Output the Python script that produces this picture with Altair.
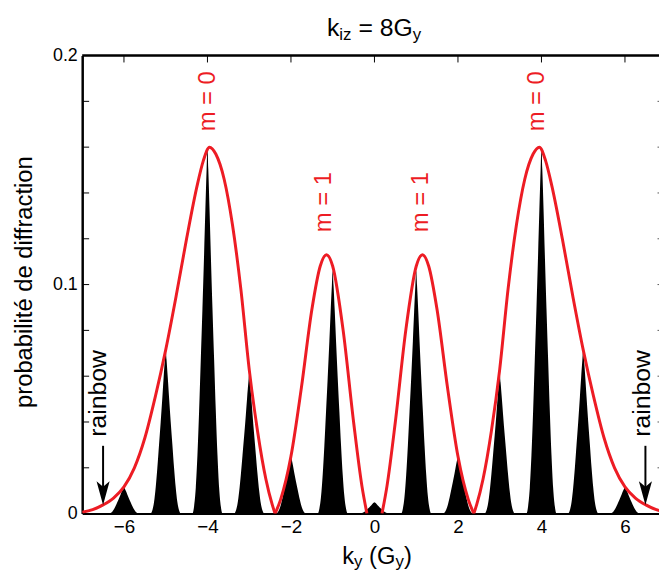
import altair as alt
import pandas as pd

RED = "#ED1C24"
FONT = "Liberation Sans"

# ---------------- data ----------------
# red envelope, one list pair per lobe (k_y in G_y, probability)
lobeA_x = [-7.0, -6.75, -6.5, -6.25, -6.0, -5.75, -5.5, -5.25, -5.0, -4.75, -4.5, -4.25, -4.1, -3.95, -3.8, -3.6, -3.4, -3.2, -3.0, -2.8, -2.6, -2.45, -2.38]
lobeA_y = [0.0006, 0.0017, 0.0038, 0.0068, 0.0117, 0.020, 0.033, 0.051, 0.0715, 0.095, 0.120, 0.143, 0.154, 0.160, 0.157, 0.146, 0.126, 0.098, 0.063, 0.036, 0.015, 0.004, 0.0]
lobeB_x = [-2.38, -2.25, -2.0, -1.75, -1.5, -1.3, -1.15, -1.0, -0.75, -0.5, -0.3, -0.18]
lobeB_y = [0.0, 0.006, 0.025, 0.055, 0.089, 0.108, 0.113, 0.108, 0.080, 0.040, 0.012, 0.0]
lobeC_x = [0.18, 0.3, 0.5, 0.75, 1.0, 1.15, 1.3, 1.5, 1.75, 2.0, 2.25, 2.38]
lobeC_y = [0.0, 0.012, 0.040, 0.080, 0.108, 0.113, 0.108, 0.089, 0.055, 0.025, 0.006, 0.0]
lobeD_x = [2.38, 2.45, 2.6, 2.8, 3.0, 3.2, 3.4, 3.6, 3.8, 3.95, 4.1, 4.25, 4.5, 4.75, 5.0, 5.25, 5.5, 5.75, 6.0, 6.25, 6.5, 6.75, 7.0]
lobeD_y = [0.0, 0.004, 0.015, 0.036, 0.063, 0.098, 0.126, 0.146, 0.157, 0.160, 0.154, 0.143, 0.120, 0.095, 0.0715, 0.051, 0.033, 0.020, 0.0117, 0.0068, 0.0038, 0.0017, 0.0006]

# black diffraction peaks: positions and heights
peak_x = [-6, -5, -4, -3, -2, -1, 0, 1, 2, 3, 4, 5, 6]
peak_h = [0.0117, 0.0715, 0.160, 0.061, 0.025, 0.106, 0.005, 0.106, 0.025, 0.061, 0.160, 0.0715, 0.0117]
# shape of one peak: offset from its centre and height relative to its top
prof_dx = [-0.36, -0.32, -0.28, -0.24, -0.2, -0.16, -0.12, -0.08, -0.05, -0.02, 0.0,
           0.02, 0.05, 0.08, 0.12, 0.16, 0.2, 0.24, 0.28, 0.32, 0.36]
prof_rel = [0.0, 0.02, 0.07, 0.16, 0.28, 0.42, 0.56, 0.71, 0.83, 0.94, 1.0,
            0.94, 0.83, 0.71, 0.56, 0.42, 0.28, 0.16, 0.07, 0.02, 0.0]

x_ticks = [-6, -4, -2, 0, 2, 4, 6]
y_labels = [0, 0.1, 0.2]
y_minor = [0.02, 0.04, 0.06, 0.08, 0.1, 0.12, 0.14, 0.16, 0.18]

m_labels = ["m = 0", "m = 1", "m = 1", "m = 0"]
m_x = [-3.99, -1.2, 1.11, 3.9]
m_y = [0.180, 0.136, 0.136, 0.180]

rainbow_x = [-6.63, 6.42]
rainbow_y = [0.0525, 0.0525]
arrow_x = [-6.5, 6.49]
arrow_top = 0.0296
arrow_end = 0.0065
arrow_head_y = 0.0089

# ---------------- layout ----------------
W, H = 583, 463
OX, OY = 83, 53          # page position of the plot origin
XMIN, XMAX = -7.0, -7.0 + W / 42.2

xs = alt.Scale(domain=[XMIN, XMAX], nice=False, zero=False)
ys = alt.Scale(domain=[0, 0.2], nice=False, zero=False)

xaxis = alt.Axis(values=x_ticks, ticks=False, domainColor="black", domainWidth=2,
                 labelFont=FONT, labelFontSize=19, labelColor="black", labelPadding=4,
                 labelFlush=False, labelOverlap=False, grid=False, title=None)
yaxis = alt.Axis(values=y_labels, ticks=False, domainColor="black", domainWidth=2.5,
                 labelFont=FONT, labelFontSize=18, labelColor="black", labelPadding=5,
                 format=".1~f",
                 labelFlush=False, labelOverlap=False, grid=False, title=None)


def X(f):
    return alt.X(f, type="quantitative", scale=xs, axis=xaxis)


def Y(f):
    return alt.Y(f, type="quantitative", scale=ys, axis=yaxis, stack=None)


env_rows = []
for name, xx, yy in [("A", lobeA_x, lobeA_y), ("B", lobeB_x, lobeB_y),
                     ("C", lobeC_x, lobeC_y), ("D", lobeD_x, lobeD_y)]:
    for i, (a, b) in enumerate(zip(xx, yy)):
        env_rows.append({"lobe": name, "i": i, "x": a, "y": b})
env = pd.DataFrame(env_rows)

# peaks do not overlap, so they form one continuous series along k_y
peak_rows = []
for px, h in zip(peak_x, peak_h):
    for d, r in zip(prof_dx, prof_rel):
        peak_rows.append({"x": round(px + d, 4), "y": h * r})
peaks = pd.DataFrame(peak_rows).sort_values("x").reset_index(drop=True)

peak_layer = alt.Chart(peaks).mark_area(color="black", fill="black", fillOpacity=1,
                                        clip=True, orient="vertical",
                                        interpolate="monotone").encode(
    x=X("x"), y=Y("y"))

env_layer = alt.Chart(env).mark_line(color=RED, strokeWidth=3, clip=True,
                                     interpolate="monotone").encode(
    x=X("x"), y=Y("y"), detail="lobe:N", order="i:Q")

yt = pd.DataFrame({"v": y_minor})
left_ticks = alt.Chart(yt).mark_rule(color="black", strokeWidth=1).encode(
    y=Y("v"), x=alt.value(0), x2=alt.value(7))
right_ticks = alt.Chart(yt).mark_rule(color="#555555", strokeWidth=1).encode(
    y=Y("v"), x=alt.value(W - 1.5), x2=alt.value(W))
xt = pd.DataFrame({"v": x_ticks})
top_ticks = alt.Chart(xt).mark_rule(color="black", strokeWidth=1).encode(
    x=X("v"), y=alt.value(0), y2=alt.value(7))
top_line = alt.Chart(xt.head(1)).mark_rule(color="black", strokeWidth=2.5).encode(
    x=alt.value(0), x2=alt.value(W), y=alt.value(0))

mdf = pd.DataFrame({"t": m_labels, "x": m_x, "y": m_y})
m_layer = alt.Chart(mdf).mark_text(color=RED, font=FONT, fontSize=24, angle=270,
                                   align="center", baseline="middle").encode(
    x=X("x"), y=Y("y"), text="t:N")

rdf = pd.DataFrame({"t": ["rainbow", "rainbow"], "x": rainbow_x, "y": rainbow_y})
r_layer = alt.Chart(rdf).mark_text(color="black", font=FONT, fontSize=25, angle=270,
                                   align="center", baseline="middle").encode(
    x=X("x"), y=Y("y"), text="t:N")

adf = pd.DataFrame({"x": arrow_x, "y": [arrow_top] * 2, "y2": [arrow_end] * 2,
                    "yh": [arrow_head_y] * 2})
shaft = alt.Chart(adf).mark_rule(color="black", strokeWidth=2).encode(
    x=X("x"), y=Y("y"), y2="y2:Q")
head = alt.Chart(adf).mark_point(
    shape="M0,1L-0.55,-1L0,-0.55L0.55,-1Z", filled=True, color="black",
    size=576, opacity=1, strokeWidth=0).encode(x=X("x"), y=Y("yh"))

# ---- text with subscripts, built piece by piece (Arial-metric widths) ----
WID = {"k": 500, "y": 500, " ": 278, "(": 333, ")": 333, "G": 778, "i": 222,
       "z": 500, "=": 584, "8": 556}


def tw(s, fs):
    return sum(WID[c] for c in s) * fs / 1000.0


def pieces(parts, cx, base_y, main_fs, sub_fs, sub_drop):
    total = sum(tw(s, sub_fs if sub else main_fs) for s, sub in parts)
    x = cx - total / 2.0
    layers = []
    for s, sub in parts:
        fs = sub_fs if sub else main_fs
        yb = base_y + (sub_drop if sub else 0)
        lead = len(s) - len(s.lstrip(" "))
        x += tw(" " * lead, fs)
        txt = s.lstrip(" ")
        layers.append(alt.Chart(xt.head(1)).mark_text(
            text=txt, font=FONT, fontSize=fs, color="black", align="left",
            baseline="alphabetic").encode(x=alt.value(x - OX), y=alt.value(yb - OY)))
        x += tw(txt, fs)
    return layers


title_parts = [("k", False), ("iz", True), (" = 8G", False), ("y", True)]
xlab_parts = [("k", False), ("y", True), (" (G", False), ("y", True), (")", False)]
title_layers = pieces(title_parts, 378, 33, 25, 17, 4.5)
xlab_layers = pieces(xlab_parts, 381, 567, 24, 17, 3)

ylab = alt.Chart(xt.head(1)).mark_text(
    text="probabilité de diffraction", font=FONT, fontSize=24, color="black",
    angle=270, align="center", baseline="middle").encode(
    x=alt.value(25 - OX), y=alt.value(282 - OY))

chart = alt.layer(
    peak_layer, env_layer, left_ticks, right_ticks, top_ticks, top_line,
    shaft, head, m_layer, r_layer, ylab, *title_layers, *xlab_layers
).properties(
    width=W, height=H,
    autosize=alt.AutoSizeParams(type="none"),
    padding={"left": OX - 8, "top": OY - 8, "right": 0, "bottom": 575 - OY - H},
).configure_view(stroke=None).configure(background="white")

chart.save("out.html", embed_options={"renderer": "svg", "actions": False})
